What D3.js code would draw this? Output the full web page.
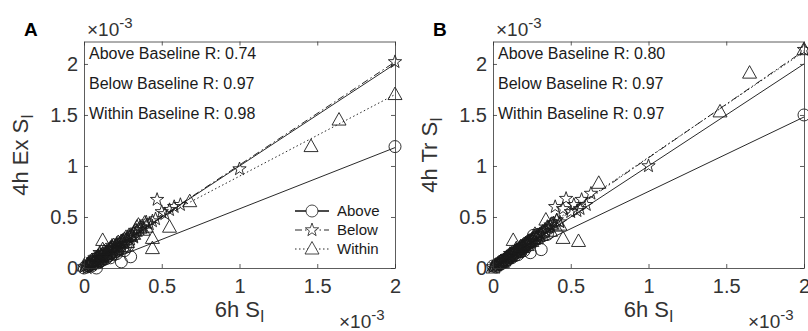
<!DOCTYPE html>
<html>
<head>
<meta charset="utf-8">
<script src="https://cdn.jsdelivr.net/npm/d3@7"></script>
<style>
body { margin: 0; background: #fff; }
text { font-family: "Liberation Sans", Arial, Helvetica, sans-serif; }
</style>
</head>
<body>
<div id="chart"></div>
<script>
// values are in units of 1e-3
var xTicks = [0, 0.5, 1, 1.5, 2];
var yTicks = [0, 0.5, 1, 1.5, 2];
var tickLabels = ["0", "0.5", "1", "1.5", "2"];
var seriesNames = ["Above", "Below", "Within"];

// panel A : 6h vs 4h Ex
var aboveAx = [0.00, 0.02, 0.04, 0.05, 0.07, 0.08, 0.10, 0.12, 0.14, 0.15, 0.17, 0.19, 0.21, 0.24, 0.30, 2.00,
    0.03, 0.06, 0.09, 0.11, 0.13, 0.16, 0.18, 0.20, 0.22, 0.25, 0.27, 0.11, 0.14, 0.17, 0.23, 0.26, 0.09, 0.05, 0.19, 0.28];
var aboveAy = [0.00, 0.01, 0.03, 0.02, 0.05, 0.00, 0.06, 0.08, 0.09, 0.11, 0.10, 0.13, 0.14, 0.06, 0.11, 1.19,
    0.02, 0.04, 0.07, 0.09, 0.11, 0.12, 0.15, 0.16, 0.18, 0.20, 0.22, 0.07, 0.13, 0.14, 0.19, 0.17, 0.05, 0.06, 0.17, 0.21];
var belowAx = [0.00, 0.02, 0.03, 0.05, 0.06, 0.08, 0.09, 0.10, 0.12, 0.13, 0.15, 0.16, 0.18, 0.20, 0.22, 0.24, 0.26, 0.28, 0.30, 0.33, 0.36, 0.40, 0.44, 0.47, 0.50, 0.55, 0.58, 0.62, 1.00, 2.00,
    0.04, 0.07, 0.09, 0.11, 0.12, 0.14, 0.16, 0.17, 0.19, 0.21, 0.23, 0.25, 0.27, 0.29, 0.31, 0.34, 0.38, 0.42, 0.46, 0.52, 0.10, 0.13, 0.18, 0.24, 0.32];
var belowAy = [0.01, 0.00, 0.04, 0.03, 0.08, 0.06, 0.12, 0.09, 0.14, 0.11, 0.16, 0.18, 0.17, 0.22, 0.20, 0.26, 0.24, 0.30, 0.28, 0.34, 0.38, 0.45, 0.46, 0.67, 0.55, 0.57, 0.60, 0.62, 0.97, 2.02,
    0.05, 0.07, 0.10, 0.13, 0.10, 0.15, 0.14, 0.20, 0.19, 0.24, 0.21, 0.27, 0.27, 0.31, 0.32, 0.37, 0.40, 0.43, 0.48, 0.53, 0.15, 0.12, 0.22, 0.23, 0.30];
var withinAx = [0.00, 0.02, 0.04, 0.06, 0.08, 0.10, 0.12, 0.14, 0.16, 0.18, 0.20, 0.23, 0.26, 0.28, 0.32, 0.35, 0.38, 0.40, 0.44, 0.44, 0.55, 0.68, 1.46, 1.64, 2.00,
    0.03, 0.05, 0.07, 0.09, 0.11, 0.13, 0.15, 0.17, 0.19, 0.21, 0.24, 0.27, 0.30, 0.33, 0.36, 0.12, 0.22, 0.29, 0.34, 0.39];
var withinAy = [0.02, 0.03, 0.06, 0.05, 0.10, 0.08, 0.27, 0.14, 0.17, 0.20, 0.18, 0.24, 0.28, 0.25, 0.33, 0.42, 0.37, 0.40, 0.29, 0.19, 0.40, 0.65, 1.19, 1.45, 1.70,
    0.04, 0.07, 0.06, 0.11, 0.12, 0.16, 0.13, 0.19, 0.22, 0.21, 0.26, 0.30, 0.31, 0.36, 0.39, 0.18, 0.25, 0.32, 0.40, 0.44];
// fit lines: y at x=0 and x=2
var fitA = { identity: [0, 2], above: [-0.02, 1.18], below: [0.0, 2.02], within: [0.10, 1.70] };
var rA = ["0.74", "0.97", "0.98"];

// panel B : 6h vs 4h Tr
var aboveBx = [0.00, 0.02, 0.04, 0.06, 0.08, 0.10, 0.12, 0.14, 0.16, 0.18, 0.20, 0.22, 0.24, 0.26, 0.28, 0.31, 2.00,
    0.03, 0.05, 0.07, 0.09, 0.11, 0.13, 0.15, 0.17, 0.19, 0.21, 0.23, 0.25, 0.27, 0.29, 0.12, 0.16, 0.20, 0.24, 0.33, 0.35];
var aboveBy = [0.02, 0.01, 0.04, 0.05, 0.06, 0.09, 0.10, 0.12, 0.13, 0.16, 0.17, 0.21, 0.15, 0.32, 0.30, 0.18, 1.50,
    0.03, 0.04, 0.08, 0.08, 0.11, 0.13, 0.15, 0.18, 0.19, 0.22, 0.24, 0.26, 0.28, 0.33, 0.14, 0.17, 0.20, 0.27, 0.35, 0.33];
var belowBx = [0.00, 0.02, 0.04, 0.06, 0.08, 0.10, 0.11, 0.13, 0.15, 0.17, 0.19, 0.21, 0.23, 0.25, 0.28, 0.30, 0.33, 0.36, 0.40, 0.43, 0.47, 0.50, 0.56, 0.57, 0.60, 0.63, 1.00, 2.00,
    0.03, 0.05, 0.07, 0.09, 0.12, 0.14, 0.16, 0.18, 0.20, 0.22, 0.24, 0.26, 0.29, 0.31, 0.34, 0.37, 0.39, 0.41, 0.45, 0.52, 0.54, 0.11, 0.17, 0.27, 0.35];
var belowBy = [0.01, 0.03, 0.05, 0.07, 0.10, 0.11, 0.14, 0.15, 0.18, 0.19, 0.22, 0.24, 0.26, 0.28, 0.30, 0.33, 0.36, 0.40, 0.60, 0.45, 0.68, 0.55, 0.58, 0.67, 0.62, 0.73, 1.00, 2.14,
    0.04, 0.06, 0.08, 0.11, 0.13, 0.16, 0.17, 0.21, 0.21, 0.25, 0.27, 0.29, 0.32, 0.34, 0.37, 0.42, 0.44, 0.47, 0.58, 0.62, 0.56, 0.12, 0.20, 0.31, 0.39];
var withinBx = [0.00, 0.01, 0.03, 0.05, 0.07, 0.09, 0.11, 0.13, 0.15, 0.17, 0.19, 0.22, 0.25, 0.28, 0.31, 0.34, 0.37, 0.40, 0.43, 0.45, 0.55, 0.68, 1.46, 1.65, 2.00,
    0.02, 0.04, 0.06, 0.08, 0.10, 0.12, 0.14, 0.16, 0.18, 0.20, 0.23, 0.26, 0.29, 0.32, 0.35, 0.38, 0.15, 0.21, 0.27, 0.41];
var withinBy = [0.00, 0.02, 0.04, 0.06, 0.07, 0.10, 0.12, 0.27, 0.15, 0.18, 0.20, 0.22, 0.26, 0.29, 0.32, 0.47, 0.36, 0.41, 0.42, 0.29, 0.26, 0.83, 1.53, 1.91, 2.14,
    0.03, 0.05, 0.05, 0.09, 0.11, 0.14, 0.16, 0.17, 0.21, 0.23, 0.25, 0.28, 0.31, 0.35, 0.40, 0.43, 0.19, 0.24, 0.33, 0.46];
var fitB = { identity: [0, 2], above: [0.02, 1.48], below: [0.03, 2.13], within: [0.05, 2.12] };
var rB = ["0.80", "0.97", "0.97"];

var width = 808, height = 331;
var ink = "#333";

var svg = d3.select("#chart")
    .append("svg")
    .attr("width", width)
    .attr("height", height);

function starPath(r) {
    var pts = [];
    for (var i = 0; i < 10; i++) {
        var rr = i % 2 ? r * 0.4 : r;
        var a = -Math.PI / 2 + i * Math.PI / 5;
        pts.push([rr * Math.cos(a), rr * Math.sin(a)]);
    }
    return "M" + pts.join("L") + "Z";
}
var markerPath = {
    Above: d3.symbol().type(d3.symbolCircle).size(Math.PI * 36)(),
    Below: starPath(7),
    Within: "M0,-7.5L7,5L-7,5Z"
};
var dashes = { Above: null, Below: "7,3,1.5,3", Within: "1.5,2.5" };

function zip(xs, ys) {
    return xs.map(function(v, i) { return [v, ys[i]]; });
}

function drawPanel(p) {
    var x = d3.scaleLinear().domain([0, 2]).range([p.left, p.right]);
    var y = d3.scaleLinear().domain([0, 2.22]).range([268, 41.5]);
    var g = svg.append("g");

    // fit lines
    var line = d3.line().x(function(d) { return x(d[0]); }).y(function(d) { return y(d[1]); });
    g.append("path")
        .attr("d", line([[0, p.fit.identity[0]], [2, p.fit.identity[1]]]))
        .attr("fill", "none").attr("stroke", "#111").attr("stroke-width", 0.9);
    seriesNames.forEach(function(name) {
        var f = p.fit[name.toLowerCase()];
        g.append("path")
            .attr("d", line([[0, f[0]], [2, f[1]]]))
            .attr("fill", "none")
            .attr("stroke", "#111")
            .attr("stroke-width", 0.9)
            .attr("stroke-dasharray", dashes[name]);
    });

    // markers
    seriesNames.forEach(function(name) {
        g.append("g").selectAll("path")
            .data(p.data[name])
            .enter()
            .append("path")
            .attr("d", markerPath[name])
            .attr("transform", function(d) { return "translate(" + x(d[0]) + "," + y(d[1]) + ")"; })
            .attr("fill", "none")
            .attr("stroke", "#1a1a1a")
            .attr("stroke-width", 0.9);
    });

    // axes (box with inward ticks)
    var fmt = function(d, i) { return tickLabels[i]; };
    var axes = [
        [d3.axisBottom(x).tickValues(xTicks).tickFormat(fmt).tickPadding(11), "translate(0,268)"],
        [d3.axisTop(x).tickValues(xTicks).tickFormat(""), "translate(0,41.5)"],
        [d3.axisLeft(y).tickValues(yTicks).tickFormat(fmt).tickPadding(6), "translate(" + p.left + ",0)"],
        [d3.axisRight(y).tickValues(yTicks).tickFormat(""), "translate(" + p.right + ",0)"]
    ];
    axes.forEach(function(a) {
        var ax = g.append("g")
            .attr("transform", a[1])
            .call(a[0].tickSizeInner(-4).tickSizeOuter(0));
        ax.attr("color", ink).attr("font-size", 20).attr("font-family", null);
        ax.selectAll("line, path").attr("stroke-width", 0.8);
    });

    // annotations
    seriesNames.forEach(function(name, i) {
        g.append("text")
            .attr("x", p.left + 5)
            .attr("y", 59 + i * 30)
            .attr("font-size", 16)
            .attr("fill", "#1a1a1a")
            .text(name + " Baseline R: " + p.r[i]);
    });

    // axis labels
    var xl = g.append("text")
        .attr("x", (p.left + p.right) / 2)
        .attr("y", 317)
        .attr("text-anchor", "middle")
        .attr("font-size", 22)
        .attr("fill", ink)
        .text("6h S");
    xl.append("tspan").attr("dy", "0.3em").attr("font-size", 16).text("I");

    var yl = g.append("text")
        .attr("transform", "translate(" + (p.left - 56) + ",155) rotate(-90)")
        .attr("text-anchor", "middle")
        .attr("font-size", 22)
        .attr("fill", ink)
        .text(p.ylabel);
    yl.append("tspan").attr("dy", "0.3em").attr("font-size", 16).text("I");

    // exponent labels
    function expo(tx, ty) {
        var t = g.append("text").attr("x", tx).attr("y", ty)
            .attr("font-size", 19).attr("fill", ink).text("\u00d710");
        t.append("tspan").attr("dy", "-0.55em").attr("font-size", 15).text("-3");
    }
    expo(p.left + 3, 36);
    expo(p.right - 56, 328);

    // panel letter
    g.append("text")
        .attr("x", p.left - 60)
        .attr("y", 36)
        .attr("font-size", 19)
        .attr("font-weight", "bold")
        .attr("fill", "#000")
        .text(p.letter);

    // legend
    if (p.legend) {
        seriesNames.forEach(function(name, i) {
            var ly = 211 + i * 19;
            g.append("line")
                .attr("x1", 295).attr("x2", 329)
                .attr("y1", ly).attr("y2", ly)
                .attr("stroke", "#111")
                .attr("stroke-width", name === "Above" ? 1.4 : 0.9)
                .attr("stroke-dasharray", dashes[name]);
            g.append("path")
                .attr("d", markerPath[name])
                .attr("transform", "translate(312," + ly + ")")
                .attr("fill", "#fff")
                .attr("stroke", "#1a1a1a")
                .attr("stroke-width", 0.8);
            g.append("text")
                .attr("x", 337)
                .attr("y", ly + 5)
                .attr("font-size", 15)
                .attr("fill", "#1a1a1a")
                .text(name);
        });
    }
}

drawPanel({
    letter: "A", left: 84, right: 395, ylabel: "4h Ex S", r: rA, fit: fitA, legend: true,
    data: { Above: zip(aboveAx, aboveAy), Below: zip(belowAx, belowAy), Within: zip(withinAx, withinAy) }
});
drawPanel({
    letter: "B", left: 493, right: 804, ylabel: "4h Tr S", r: rB, fit: fitB, legend: false,
    data: { Above: zip(aboveBx, aboveBy), Below: zip(belowBx, belowBy), Within: zip(withinBx, withinBy) }
});
</script>
</body>
</html>
